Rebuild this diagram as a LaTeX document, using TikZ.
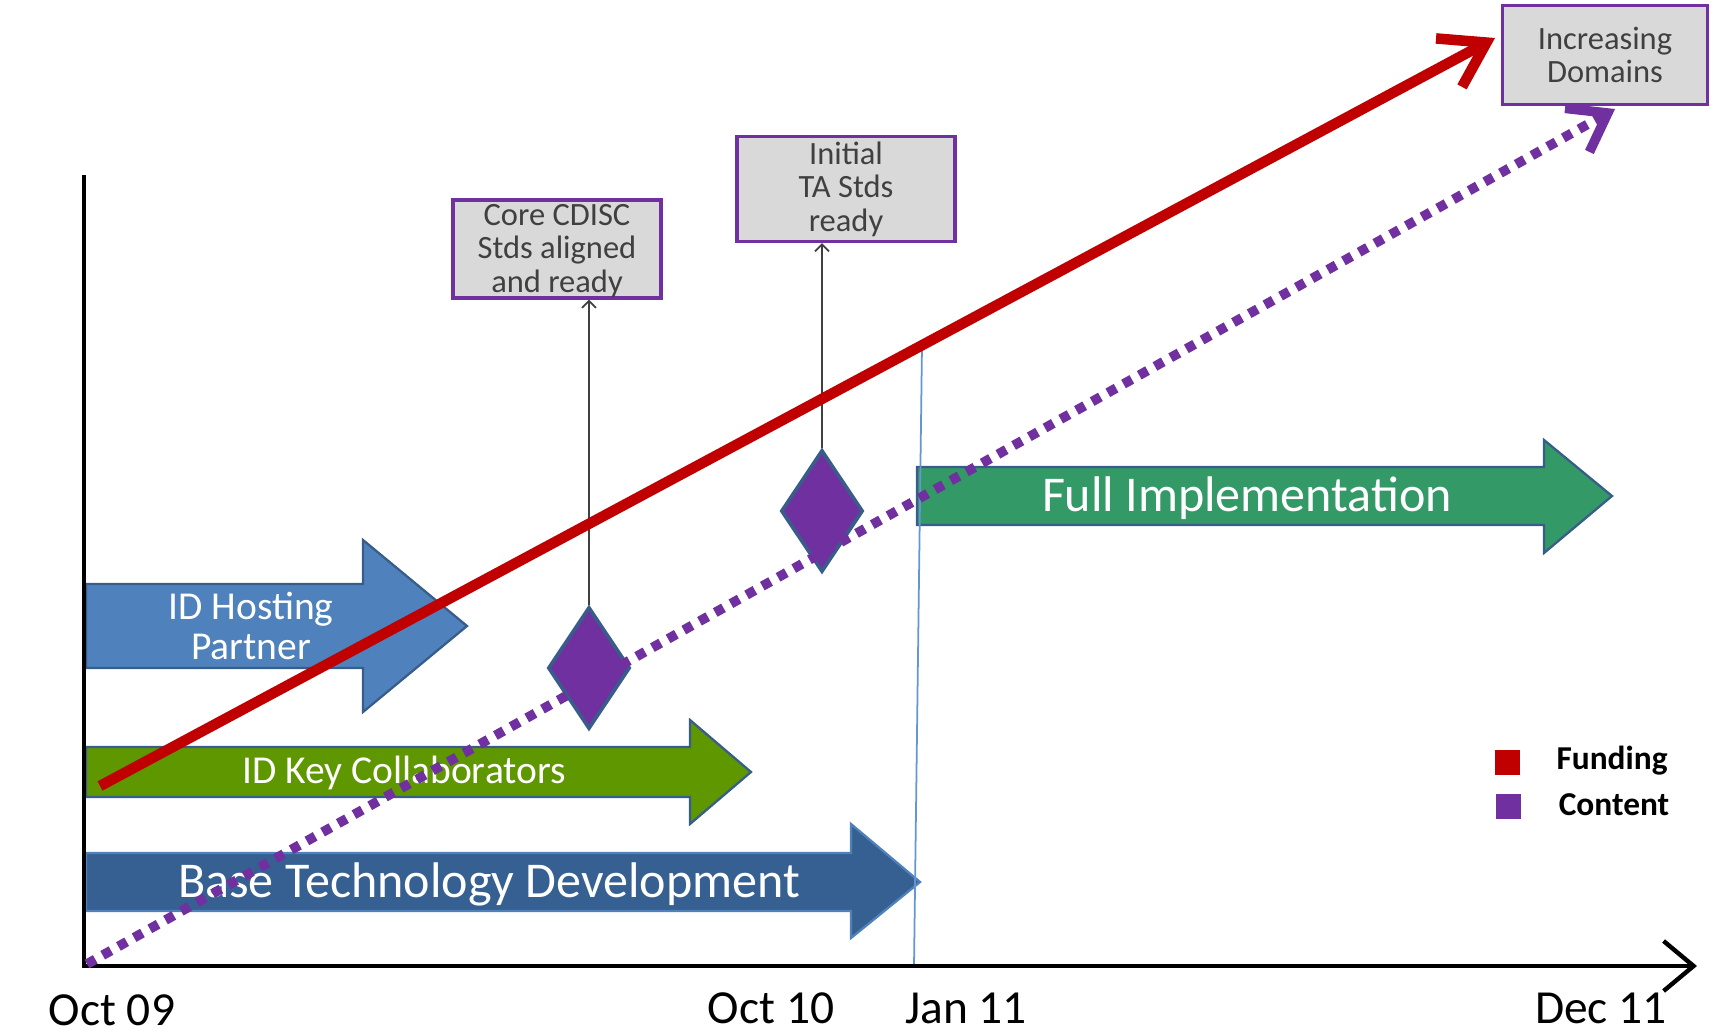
\documentclass[tikz,border=0pt]{standalone}
\usepackage{fontspec}
\setmainfont{Carlito}
\usetikzlibrary{arrows.meta, shapes.geometric}
\definecolor{tlred}{RGB}{192,0,0}
\definecolor{tlpurple}{RGB}{112,48,160}
\definecolor{tlblue}{RGB}{79,129,189}
\definecolor{tldarkblue}{RGB}{54,96,146}
\definecolor{tlgreen}{RGB}{95,151,0}
\definecolor{tlsea}{RGB}{51,153,102}
\definecolor{tledge}{RGB}{56,93,138}
\definecolor{tlgray}{RGB}{217,217,217}
\definecolor{tltext}{RGB}{64,64,64}
\definecolor{tlline}{RGB}{100,150,210}

\begin{document}
\begin{tikzpicture}[x=0.02cm, y=-0.02cm,
    band/.style={draw=tledge, line width=1.3pt, line join=miter},
    bandtext/.style={text=white, align=center, inner sep=0pt},
    milestone/.style={rectangle, draw=tlpurple, line width=1.8pt, fill=tlgray, text=tltext, align=center, inner sep=0pt, font=\fontsize{18.5}{19}\selectfont},
    gem/.style={diamond, draw=tledge, line width=2pt, fill=tlpurple, minimum width=1.64cm, minimum height=2.44cm, inner sep=0pt},
    keybox/.style={rectangle, minimum size=0.5cm, inner sep=0pt},
    keytext/.style={inner sep=0pt, font=\bfseries\fontsize{19}{19}\selectfont},
    date/.style={inner sep=0pt, font=\fontsize{27}{27}\selectfont},
    funding/.style={tlred, line width=6pt, -{Straight Barb[length=0.85cm, width=1.1cm]}},
    content/.style={tlpurple, line width=5.5pt, dash pattern=on 0.19cm off 0.17cm, -{Straight Barb[length=0.7cm, width=1.0cm]}},
    link/.style={tltext, line width=1pt, -{Straight Barb[length=4pt, width=8pt]}}
]
\useasboundingbox (0,0) rectangle (1711,1034);

% block arrows
\filldraw[band, fill=tlblue] (86,584) -- (363,584) -- (363,540) -- (467,626) -- (363,712) -- (363,668) -- (86,668) -- cycle;
\filldraw[band, fill=tlgreen] (86,747) -- (690,747) -- (690,720) -- (751,772) -- (690,824) -- (690,797) -- (86,797) -- cycle;
\filldraw[band, fill=tldarkblue, draw=tlblue] (86,853) -- (851,853) -- (851,824) -- (920,882) -- (851,938) -- (851,911) -- (86,911) -- cycle;
\filldraw[band, fill=tlsea] (917,467) -- (1544,467) -- (1544,440) -- (1612,496) -- (1544,553) -- (1544,525) -- (917,525) -- cycle;
\node[bandtext, font=\fontsize{22.5}{22.4}\selectfont] (host) at (251,626) {ID Hosting\\Partner};
\node[bandtext, font=\fontsize{22.5}{22.4}\selectfont] (collab) at (404,773) {ID Key Collaborators};
\node[bandtext, font=\fontsize{28.5}{28.5}\selectfont] (base) at (489,884) {Base Technology Development};
\node[bandtext, font=\fontsize{28.5}{28.5}\selectfont] (full) at (1247,498) {Full Implementation};

% axes
\coordinate (origin) at (84,966);
\coordinate (ytop) at (84,175);
\coordinate (xend) at (1697,966);
\coordinate (jantop) at (922,346);
\coordinate (janbot) at (914,966);
\draw[tlline, line width=1pt] (jantop) -- (janbot);
\draw[line width=2.5pt, -{Straight Barb[length=0.6cm, width=1.0cm]}] (ytop) -- (origin) -- (xend);

% milestones
\node[milestone, minimum width=4.16cm, minimum height=1.96cm] (core) at (557,249) {\rule{0pt}{14pt}Core CDISC\\Stds aligned\\and ready};
\node[milestone, minimum width=4.36cm, minimum height=2.1cm] (initial) at (846,189) {Initial\\TA Stds\\ready};
\node[milestone, minimum width=4.1cm, minimum height=1.98cm] (domains) at (1605,55) {Increasing\\Domains};
\node[gem] (gem1) at (589,668) {};
\node[gem] (gem2) at (822,511) {};
\draw[link] (gem1.north) -- (gem1.north |- core.south);
\draw[link] (gem2.north) -- (gem2.north |- initial.south);

% trend lines
\coordinate (fundstart) at (100,786);
\coordinate (fundend) at (1495,38);
\coordinate (contstart) at (87,964);
\coordinate (contend) at (1615,109);
\draw[content] (contstart) -- (contend);
\draw[funding] (fundstart) -- (fundend);

% legend
\node[keybox, fill=tlred] (fundkey) at (1507,762) {};
\node[keybox, fill=tlpurple] (contkey) at (1508,806) {};
\node[keytext] (fundlabel) at (1612,761) {Funding};
\node[keytext] (contlabel) at (1614,805) {Content};

% dates
\node[date] (oct09) at (112,1010) {Oct 09};
\node[date] (oct10) at (771,1008) {Oct 10};
\node[date] (jan11) at (966,1008) {Jan 11};
\node[date] (dec11) at (1601,1008) {Dec 11};
\end{tikzpicture}
\end{document}
